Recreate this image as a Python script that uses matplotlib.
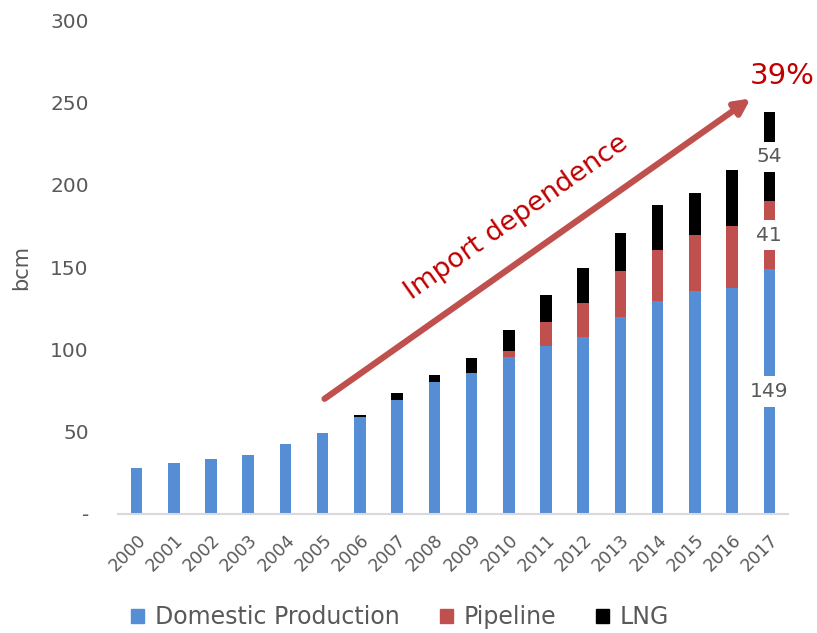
import numpy as np
import matplotlib.pyplot as plt
from matplotlib.patches import Patch

years = [str(y) for y in range(2000, 2018)]
domestic = [28, 31, 33.5, 36, 42.5, 49, 59, 69, 80, 85.5, 95.5, 102, 107.5, 120, 129.5, 135.5, 137.5, 149]
pipeline = [0, 0, 0, 0, 0, 0, 0, 0, 0, 0, 3.5, 14.5, 21, 27.5, 31, 34, 37.5, 41]
lng = [0, 0, 0, 0, 0, 0, 1, 4.5, 4.5, 9.5, 13, 16.5, 21, 23, 27.5, 25.5, 34, 54]

blue = "#558ED5"
red = "#C0504D"
gray = "#595959"
dark_red = "#C00000"

fig = plt.figure(figsize=(8.17, 6.33), dpi=100)
ax = fig.add_axes([0.1444, 0.188, 0.820, 0.780])

x = np.arange(len(years))
w = 0.31
dom = np.array(domestic)
pip = np.array(pipeline)
lg = np.array(lng)
ax.bar(x, dom, w, color=blue, label="Domestic Production")
ax.bar(x, pip, w, bottom=dom, color=red, label="Pipeline")
ax.bar(x, lg, w, bottom=dom + pip, color="black", label="LNG")

# data labels for the last year
last = len(years) - 1
for val, base in [(domestic[last], 0), (pipeline[last], domestic[last]),
                  (lng[last], domestic[last] + pipeline[last])]:
    ax.text(last, base + val / 2, f"{val:g}", ha="center", va="center",
            fontsize=14.5, color=gray,
            bbox=dict(facecolor="white", edgecolor="none", pad=4))

ax.set_xlim(-0.5, len(years) - 0.5)
ax.set_ylim(0, 300)
ax.set_yticks(range(0, 301, 50))
ax.set_yticklabels(["-"] + [str(v) for v in range(50, 301, 50)])
ax.set_xticks(x)
ax.set_xticklabels(years, rotation=45, ha="right", va="top", rotation_mode="anchor")
ax.tick_params(axis="y", length=0, pad=21, labelsize=14.5, labelcolor=gray)
ax.tick_params(axis="x", length=0, pad=12, labelsize=12.5, labelcolor=gray)
for s in ["top", "right", "left"]:
    ax.spines[s].set_visible(False)
ax.spines["bottom"].set_color("#D9D9D9")
ax.spines["bottom"].set_linewidth(1.5)
ax.set_ylabel("bcm", fontsize=15, color=gray, labelpad=14)

# import dependence arrow
ax.annotate("", xy=(16.5, 252.5), xytext=(5.05, 70),
            arrowprops=dict(arrowstyle="-|>,head_length=0.9,head_width=0.45",
                            color=red, lw=4.5, shrinkA=0, shrinkB=0))
ax.text(10.2, 180, "Import dependence", rotation=35.2, ha="center", va="center",
        fontsize=19.5, color=dark_red)
ax.text(17.35, 266, "39%", ha="center", va="center", fontsize=21,
        color=dark_red, clip_on=False)

handles = [Patch(color=blue), Patch(color=red), Patch(color="black")]
leg = fig.legend(handles, ["Domestic Production", "Pipeline", "LNG"],
                 loc="center", bbox_to_anchor=(0.49, 0.025), ncol=3, frameon=False,
                 fontsize=17, handlelength=0.55, handleheight=0.55,
                 handletextpad=0.45, columnspacing=1.7)
for t in leg.get_texts():
    t.set_color(gray)

fig.savefig("out.png", dpi=100)
